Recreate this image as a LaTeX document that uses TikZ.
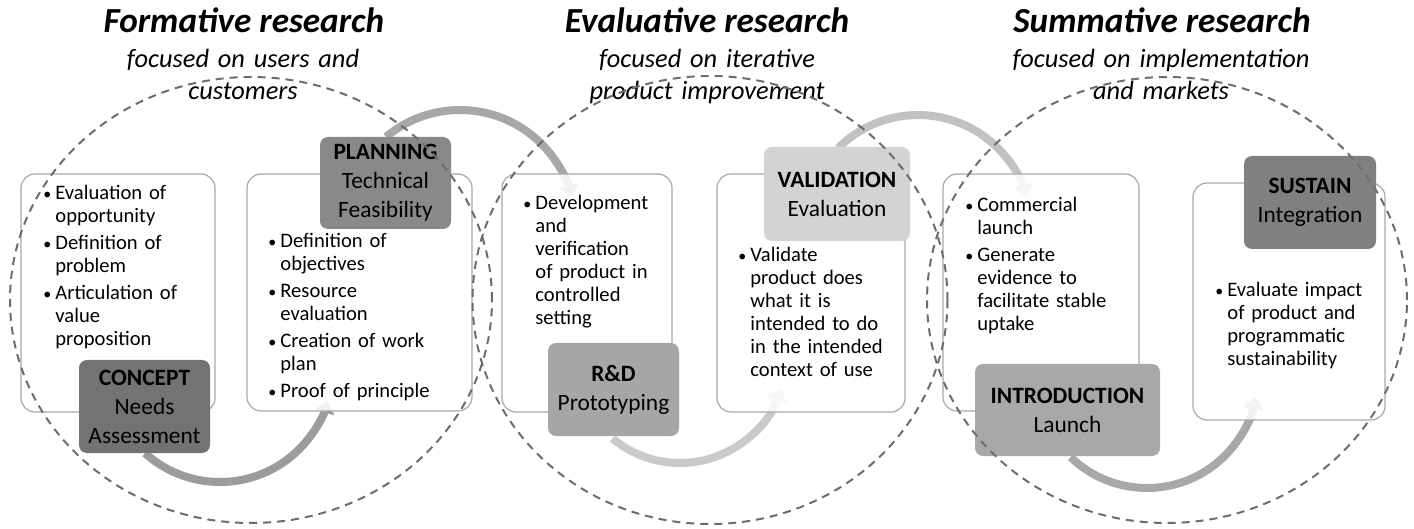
\documentclass[tikz,border=0pt]{standalone}
\usepackage{fontspec}
\setmainfont{Carlito}
\usetikzlibrary{shapes.geometric,arrows.meta}

\definecolor{ringgray}{HTML}{6D6D6D}
\definecolor{boxline}{HTML}{A8A8A8}
\definecolor{conceptfill}{HTML}{737373}
\definecolor{planfill}{HTML}{898989}
\definecolor{rdfill}{HTML}{A6A6A6}
\definecolor{validfill}{HTML}{D3D3D3}
\definecolor{introfill}{HTML}{A8A8A8}
\definecolor{sustainfill}{HTML}{808080}
\definecolor{flowA}{HTML}{9C9C9C}
\definecolor{flowB}{HTML}{A8A8A8}
\definecolor{flowC}{HTML}{CACACA}
\definecolor{flowD}{HTML}{C2C2C2}
\definecolor{flowE}{HTML}{A8A8A8}

% bullet and hanging indent for the list items
\newcommand\bu{\makebox[6pt][l]{{\fontsize{8}{8}\selectfont\raisebox{0.1ex}{\textbullet}}}}
\newcommand\hi{\hspace*{6pt}}

\begin{document}
\begin{tikzpicture}[x=0.5pt,y=0.5pt,
  sz/.style 2 args={minimum width=#1*0.5pt, minimum height=#2*0.5pt},
  title/.style={anchor=base, font=\fontsize{17.6}{20}\selectfont\bfseries\itshape},
  subtitle/.style={anchor=base, align=center, text width=180pt, inner sep=0pt,
    font=\fontsize{13.2}{16}\selectfont\itshape},
  txtbox/.style={draw=boxline, line width=0.6pt, fill=white, fill opacity=0.85,
    rounded corners=7pt, inner sep=0pt},
  body/.style={anchor=base west, align=left, text width=110pt, inner sep=0pt,
    font=\fontsize{10.3}{11.5}\selectfont},
  lab/.style={rounded corners=4pt, align=center, inner sep=0pt,
    font=\fontsize{11.7}{14.5}\selectfont},
  flow/.style={line width=4pt, -{Triangle[width=10pt,length=6pt]}},
  ring/.style={ellipse, draw=ringgray, line width=1pt, dash pattern=on 4pt off 3pt,
    inner sep=0pt}
]
\useasboundingbox (0,0) rectangle (1414,-529);
\fill[white] (0,0) rectangle (1414,-529);

% headings
\node[title] (t1) at (244,-33) {Formative research};
\node[title] (t2) at (707,-33) {Evaluative research};
\node[title] (t3) at (1162,-33) {Summative research};
\node[subtitle] (s1) at (243,-68) {focused on users and\\customers};
\node[subtitle] (s2) at (707,-68) {focused on iterative\\product improvement};
\node[subtitle] (s3) at (1161,-68) {focused on implementation\\and markets};

% curved flow arrows between the stages
\coordinate (o1) at (220,-370);
\coordinate (o2) at (460,-225);
\coordinate (o3) at (680,-358);
\coordinate (o4) at (918,-228);
\coordinate (o5) at (1147,-378);
\draw[flow, flowA] (o1) ++(228:56pt) arc[start angle=228, end angle=344, radius=56pt];
\draw[flow, flowB] (o2) ++(130:57.5pt) arc[start angle=130, end angle=14, radius=57.5pt];
\draw[flow, flowC] (o3) ++(230:52.5pt) arc[start angle=230, end angle=343, radius=52.5pt];
\draw[flow, flowD] (o4) ++(135:56.5pt) arc[start angle=135, end angle=16, radius=56.5pt];
\draw[flow, flowE] (o5) ++(226:55pt) arc[start angle=226, end angle=350, radius=55pt];

% text panels
\node[txtbox, sz={194}{238}] (pa) at (118,-293) {};
\node[txtbox, sz={225}{237}] (pb) at (359.5,-292.5) {};
\node[txtbox, sz={170}{238}] (pc) at (587,-293) {};
\node[txtbox, sz={188}{238}] (pd) at (811,-293) {};
\node[txtbox, sz={196}{237}] (pe) at (1041,-292.5) {};
\node[txtbox, sz={192}{237}] (pf) at (1289,-301.5) {};

\node[body] (la) at (43,-200) {\bu Evaluation of\\ \hi opportunity\\[2pt]
  \bu Definition of\\ \hi problem\\[2pt]
  \bu Articulation of\\ \hi value\\ \hi proposition};
\node[body] (lb) at (268,-248) {\bu Definition of\\ \hi objectives\\[2pt]
  \bu Resource\\ \hi evaluation\\[2pt]
  \bu Creation of work\\ \hi plan\\[2pt]
  \bu Proof of principle};
\node[body] (lc) at (523,-210) {\bu Development\\ \hi and\\ \hi verification\\
  \hi of product in\\ \hi controlled\\ \hi setting};
\node[body] (ld) at (738,-262) {\bu Validate\\ \hi product does\\ \hi what it is\\
  \hi intended to do\\ \hi in the intended\\ \hi context of use};
\node[body] (le) at (965,-212) {\bu Commercial\\ \hi launch\\[2pt]
  \bu Generate\\ \hi evidence to\\ \hi facilitate stable\\ \hi uptake};
\node[body] (lf) at (1215,-297) {\bu Evaluate impact\\ \hi of product and\\
  \hi programmatic\\ \hi sustainability};

% stage labels
\node[lab, fill=conceptfill, sz={131}{93}] (concept) at (144.5,-406.5)
  {{\bfseries CONCEPT}\\Needs\\Assessment};
\node[lab, fill=planfill, sz={131}{92}] (planning) at (385.5,-183)
  {{\bfseries PLANNING}\\Technical\\Feasibility};
\node[lab, fill=rdfill, sz={131}{93}] (rd) at (613.5,-389.5)
  {{\bfseries R\&D}\\Prototyping};
\node[lab, fill=validfill, sz={146}{94}] (validation) at (837,-194)
  {{\bfseries VALIDATION}\\Evaluation};
\node[lab, fill=introfill, sz={185}{92}] (intro) at (1067.5,-410)
  {{\bfseries INTRODUCTION}\\Launch};
\node[lab, fill=sustainfill, sz={132}{93}] (sustain) at (1310,-202.5)
  {{\bfseries SUSTAIN}\\Integration};

% dashed research phases
\node[ring, sz={482}{446}] (r1) at (251,-300) {};
\node[ring, sz={475}{448}] (r2) at (710,-300) {};
\node[ring, sz={480}{446}] (r3) at (1167,-300) {};
\end{tikzpicture}
\end{document}
